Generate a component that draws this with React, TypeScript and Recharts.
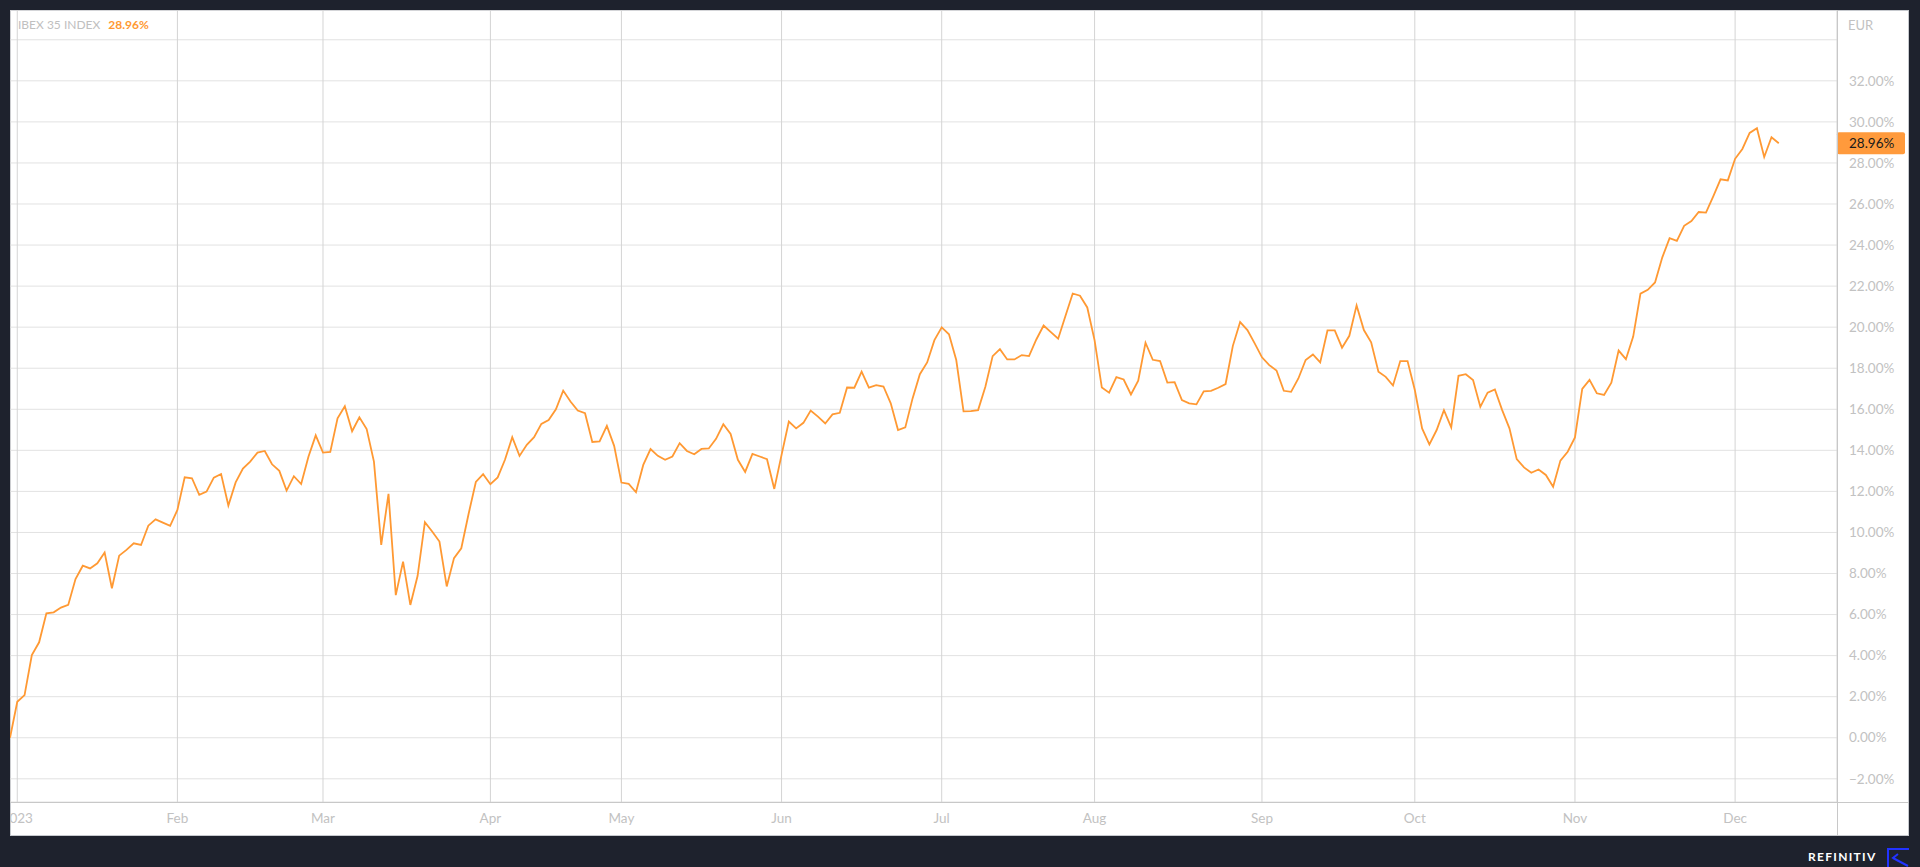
import React from "react";
import {
  LineChart,
  Line,
  XAxis,
  YAxis,
  CartesianGrid,
  ReferenceLine,
} from "recharts";

// IBEX 35 cumulative return (%) per trading day, 30 Dec 2022 -> 11 Dec 2023
const ibexReturns: number[] = [
  0, 1.75, 2.08, 4.03, 4.65, 6.06, 6.11, 6.34, 6.47, 7.73,
  8.38, 8.25, 8.5, 9.02, 7.28, 8.87, 9.15, 9.47, 9.39, 10.33,
  10.64, 10.48, 10.32, 11.1, 12.69, 12.64, 11.83, 11.99, 12.67, 12.85,
  11.31, 12.44, 13.11, 13.45, 13.89, 13.97, 13.32, 13.0, 12.04, 12.74,
  12.36, 13.69, 14.73, 13.89, 13.92, 15.56, 16.15, 14.93, 15.61, 15.04,
  13.45, 9.39, 11.88, 6.95, 8.58, 6.47, 7.89, 10.5, 10.05, 9.56,
  7.37, 8.75, 9.23, 10.9, 12.46, 12.84, 12.35, 12.68, 13.54, 14.64,
  13.73, 14.27, 14.64, 15.29, 15.48, 16.0, 16.91, 16.38, 15.94, 15.81,
  14.41, 14.44, 15.19, 14.22, 12.43, 12.37, 11.96, 13.29, 14.06, 13.73,
  13.54, 13.7, 14.35, 13.97, 13.81, 14.07, 14.09, 14.56, 15.27, 14.8,
  13.54, 12.95, 13.83, 13.7, 13.57, 12.12, 13.78, 15.4, 15.07, 15.34,
  15.94, 15.64, 15.31, 15.75, 15.83, 17.06, 17.05, 17.83, 17.06, 17.18,
  17.11, 16.29, 14.99, 15.12, 16.53, 17.71, 18.28, 19.37, 19.99, 19.65,
  18.4, 15.9, 15.91, 15.96, 17.1, 18.59, 18.93, 18.43, 18.43, 18.64,
  18.59, 19.4, 20.08, 19.76, 19.44, 20.54, 21.64, 21.53, 20.96, 19.37,
  17.06, 16.81, 17.57, 17.45, 16.72, 17.39, 19.24, 18.41, 18.35, 17.3,
  17.32, 16.45, 16.29, 16.24, 16.87, 16.9, 17.05, 17.23, 19.09, 20.25,
  19.86, 19.21, 18.53, 18.15, 17.89, 16.9, 16.85, 17.5, 18.4, 18.67,
  18.28, 19.84, 19.84, 19.0, 19.58, 21.06, 19.86, 19.26, 17.83, 17.58,
  17.16, 18.35, 18.35, 16.94, 15.07, 14.29, 14.99, 15.96, 15.12, 17.63,
  17.71, 17.42, 16.12, 16.81, 16.97, 15.96, 15.07, 13.57, 13.17, 12.91,
  13.07, 12.8, 12.23, 13.5, 13.93, 14.63, 16.99, 17.43, 16.78, 16.7,
  17.3, 18.86, 18.44, 19.54, 21.63, 21.82, 22.18, 23.4, 24.34, 24.2,
  24.94, 25.17, 25.61, 25.58, 26.37, 27.2, 27.15, 28.2, 28.68, 29.46,
  29.69, 28.29, 29.25, 28.96,
];

// first trading day of each month (index into ibexReturns)
const monthTicks: number[] = [1, 23, 43, 66, 84, 106, 128, 149, 172, 193, 215, 237];
const monthLabels: string[] = [
  "2023", "Feb", "Mar", "Apr", "May", "Jun", "Jul", "Aug", "Sep", "Oct", "Nov", "Dec",
];
const yTicks: number[] = [-2, 0, 2, 4, 6, 8, 10, 12, 14, 16, 18, 20, 22, 24, 26, 28, 30, 32, 34];

const LINE_COLOR = "#ff9933";
const LABEL_COLOR = "#c2c2c2";
const FONT = "Lato, 'Open Sans', sans-serif";

const data = ibexReturns.map((v, i) => ({ i, v }));
const lastValue = ibexReturns[ibexReturns.length - 1];

const fmtPct = (v: number) => `${v < 0 ? "\u2212" : ""}${Math.abs(v).toFixed(2)}%`;

const YTick = (props: any) => {
  const { y, payload } = props;
  if (payload.value === 34) return null;
  return (
    <text x={1839} y={y} dy="0.35em" fill={LABEL_COLOR} fontSize={13.5} fontFamily={FONT}>
      {fmtPct(payload.value)}
    </text>
  );
};

const PriceTag = (props: any) => {
  const vb = props.viewBox || {};
  const x = (vb.x ?? 0) + (vb.width ?? 0);
  const y = vb.y ?? 0;
  return (
    <g>
      <rect x={x} y={y - 11} width={68} height={22} rx={2} fill="#ff9a3c" />
      <text x={x + 12} y={y} dy="0.36em" fill="#1a1a1a" fontSize={13.5} fontFamily={FONT}>
        {fmtPct(lastValue)}
      </text>
    </g>
  );
};

const App = () => {
  return (
    <div
      style={{
        position: "fixed",
        left: 0,
        top: 0,
        width: 1920,
        height: 867,
        background: "#1e222d",
        overflow: "hidden",
        fontFamily: FONT,
      }}
    >
      <div
        style={{
          position: "absolute",
          left: 10,
          top: 10,
          width: 1899,
          height: 826,
          background: "#ffffff",
          boxShadow: "inset 0 0 0 1px #c6c9ce",
        }}
      >
        <LineChart
          width={1899}
          height={826}
          data={data}
          margin={{ top: 0, right: 0, bottom: 0, left: 0 }}
        >
          <CartesianGrid horizontal={true} vertical={false} stroke="#e2e2e2" />
          <CartesianGrid horizontal={false} vertical={true} stroke="#d4d4d4" />
          <XAxis
            dataKey="i"
            type="number"
            domain={[0, 251]}
            ticks={monthTicks}
            interval={0}
            allowDataOverflow
            tickFormatter={(v: number) => monthLabels[monthTicks.indexOf(v)] ?? ""}
            height={34}
            axisLine={false}
            tickLine={false}
            tickMargin={5}
            tick={{ fill: LABEL_COLOR, fontSize: 13.5, fontFamily: FONT }}
          />
          <YAxis
            orientation="right"
            width={72}
            domain={[-3.13, 35.45]}
            ticks={yTicks}
            interval={0}
            allowDataOverflow
            axisLine={false}
            tickLine={false}
            tick={<YTick />}
          />
          <Line
            type="linear"
            dataKey="v"
            stroke={LINE_COLOR}
            strokeWidth={1.8}
            dot={false}
            activeDot={false}
            isAnimationActive={false}
          />
          <ReferenceLine y={lastValue} stroke="none" label={<PriceTag />} />
        </LineChart>

        {/* frame separators */}
        <div style={{ position: "absolute", left: 1827, top: 0, width: 1, height: 826, background: "#c8c8c8" }} />
        <div style={{ position: "absolute", left: 0, top: 792, width: 1899, height: 1, background: "#c8c8c8" }} />

        {/* legend */}
        <div style={{ position: "absolute", left: 8, top: 8, fontSize: 12, lineHeight: "14px", whiteSpace: "nowrap" }}>
          <span style={{ color: "#c0c0c0" }}>IBEX 35 INDEX</span>
          <span style={{ color: LINE_COLOR, fontWeight: 700, marginLeft: 8 }}>{fmtPct(lastValue)}</span>
        </div>
        <div style={{ position: "absolute", left: 1838, top: 8, fontSize: 13, lineHeight: "15px", color: LABEL_COLOR }}>
          EUR
        </div>
      </div>

      {/* brand */}
      <div
        style={{
          position: "absolute",
          left: 1808,
          top: 849,
          fontSize: 12,
          fontWeight: 700,
          letterSpacing: 1.3,
          color: "#ffffff",
          lineHeight: "16px",
        }}
      >
        REFINITIV
      </div>
      <svg style={{ position: "absolute", left: 1886, top: 846 }} width={24} height={21}>
        <path d="M2 21 V3 H23" stroke="#2233ff" strokeWidth={2} fill="none" />
        <path d="M12 8 L7 12 L12 15 M7 12 L22 20" stroke="#2233ff" strokeWidth={2} fill="none" />
      </svg>
    </div>
  );
};

export default App;
